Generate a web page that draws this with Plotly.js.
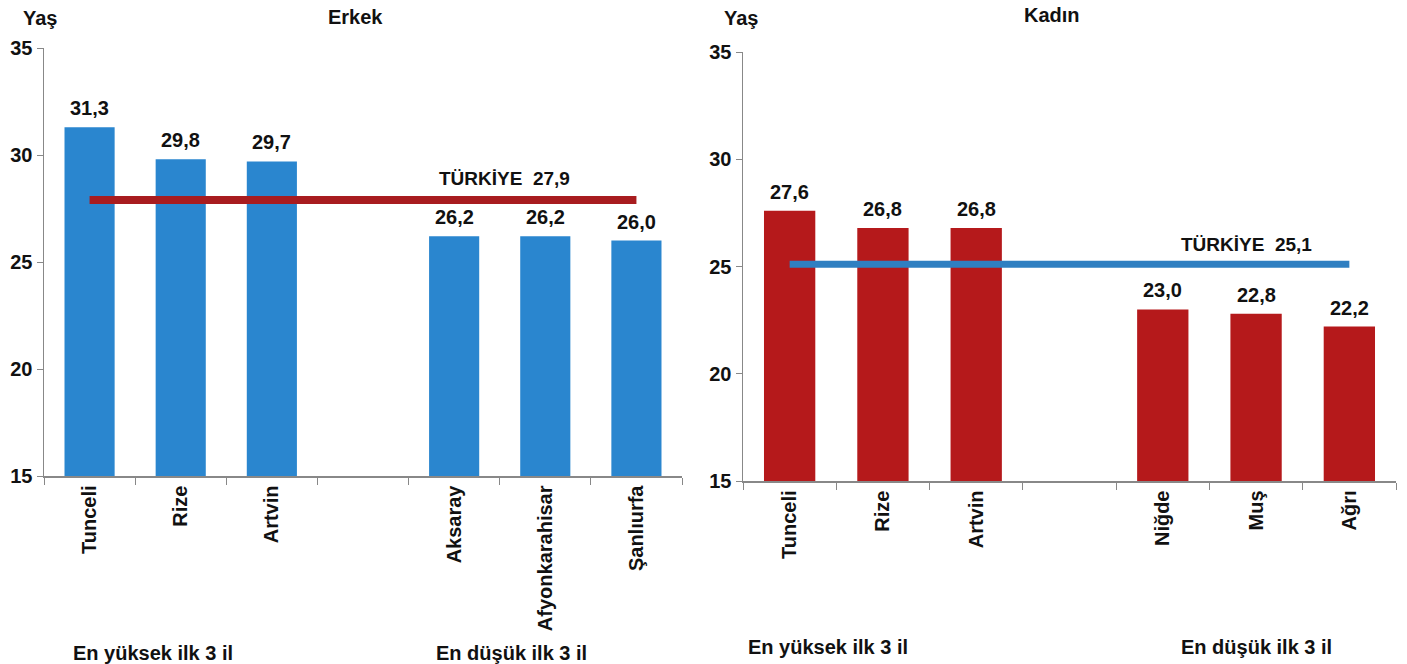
<!DOCTYPE html>
<html><head><meta charset="utf-8">
<script src="https://cdn.plot.ly/plotly-3.0.1.min.js"></script>
<style>html,body{margin:0;padding:0;background:#fff}#chart{width:1407px;height:664px}</style>
</head><body><div id="chart"></div>
<script>
const erkekCats = ["Tunceli", "Rize", "Artvin", " ", "Aksaray", "Afyonkarahisar", "Şanlıurfa"];
const erkekVals = [31.3, 29.8, 29.7, null, 26.2, 26.2, 26.0];
const erkekTurkiye = 27.9;
const kadinCats = ["Tunceli", "Rize", "Artvin", " ", "Niğde", "Muş", "Ağrı"];
const kadinVals = [27.6, 26.8, 26.8, null, 23.0, 22.8, 22.2];
const kadinTurkiye = 25.1;
const yTicks = [15, 20, 25, 30, 35];

const F = "Liberation Sans, Arial, sans-serif";
const blue = "#2a86cf", red = "#b5191b", lineRed = "#a81c1f", lineBlue = "#2f7fc1";
const fnt = (s) => ({family:F, size:s, color:"#111", weight:700});

const traces = [
  {type:"bar", x:erkekCats, y:erkekVals, xaxis:"x", yaxis:"y", marker:{color:blue}, width:0.55, hoverinfo:"none"},
  {type:"scatter", mode:"lines", x:[erkekCats[0], erkekCats[erkekCats.length-1]], y:[erkekTurkiye, erkekTurkiye],
   xaxis:"x", yaxis:"y", line:{color:lineRed, width:8}, hoverinfo:"none"},
  {type:"bar", x:kadinCats, y:kadinVals, xaxis:"x2", yaxis:"y2", marker:{color:red}, width:0.55, hoverinfo:"none"},
  {type:"scatter", mode:"lines", x:[kadinCats[0], kadinCats[kadinCats.length-1]], y:[kadinTurkiye, kadinTurkiye],
   xaxis:"x2", yaxis:"y2", line:{color:lineBlue, width:7}, hoverinfo:"none"}
];

const xBase = {type:"category", showgrid:false, showline:true, linecolor:"#888", linewidth:1.5,
  ticks:"outside", tickson:"boundaries", ticklen:7, tickcolor:"#888", tickangle:-90,
  tickfont:fnt(20), fixedrange:true};
const yBase = {range:[15,35], tickvals:yTicks, showgrid:false, showline:true, linecolor:"#888", linewidth:1.5,
  ticks:"outside", ticklen:6, tickcolor:"#888", zeroline:false,
  tickfont:fnt(20), fixedrange:true};

const ann = (text, x, y, extra) => Object.assign({text, x, y, xref:"paper", yref:"paper", showarrow:false,
  font:fnt(20)}, extra||{});

const barLabels = (cats, vals, xr, yr) => cats.map((c, i) => vals[i] == null ? null : ({
  text: vals[i].toFixed(1).replace(".", ","), x:c, y:vals[i], xref:xr, yref:yr,
  showarrow:false, yanchor:"middle", yshift:19, font:fnt(20)})).filter(a => a);

const layout = {
  width:1407, height:664, margin:{l:0, r:0, t:0, b:0}, showlegend:false,
  paper_bgcolor:"#fff", plot_bgcolor:"#fff", separators:",.", bargap:0.45,
  xaxis: Object.assign({}, xBase, {domain:[44/1407, 682/1407], anchor:"y", categoryarray:erkekCats, categoryorder:"array"}),
  yaxis: Object.assign({}, yBase, {domain:[(664-476)/664, (664-48)/664], anchor:"x"}),
  xaxis2: Object.assign({}, xBase, {domain:[743/1407, 1396/1407], anchor:"y2", categoryarray:kadinCats, categoryorder:"array"}),
  yaxis2: Object.assign({}, yBase, {domain:[(664-481)/664, (664-52)/664], anchor:"x2"}),
  annotations: [
    ann("Yaş", 40/1407, 1-18/664, {xanchor:"center", yanchor:"middle"}),
    ann("Erkek", 355/1407, 1-17/664, {xanchor:"center", yanchor:"middle"}),
    ann("Yaş", 741/1407, 1-18/664, {xanchor:"center", yanchor:"middle"}),
    ann("Kadın", 1052/1407, 1-15/664, {xanchor:"center", yanchor:"middle"}),
    {text:"TÜRKİYE  " + erkekTurkiye.toFixed(1).replace(".", ","), xref:"paper", x:437/1407, xanchor:"left",
     yref:"y", y:erkekTurkiye, yanchor:"middle", yshift:21, showarrow:false, font:fnt(19)},
    {text:"TÜRKİYE  " + kadinTurkiye.toFixed(1).replace(".", ","), xref:"paper", x:1179/1407, xanchor:"left",
     yref:"y2", y:kadinTurkiye, yanchor:"middle", yshift:20, showarrow:false, font:fnt(19)},
    ann("En yüksek ilk 3 il", 153/1407, 1-653/664, {xanchor:"center", yanchor:"middle"}),
    ann("En düşük ilk 3 il", 511/1407, 1-653/664, {xanchor:"center", yanchor:"middle"}),
    ann("En yüksek ilk 3 il", 828/1407, 1-647/664, {xanchor:"center", yanchor:"middle"}),
    ann("En düşük ilk 3 il", 1256/1407, 1-647/664, {xanchor:"center", yanchor:"middle"})
  ].concat(barLabels(erkekCats, erkekVals, "x", "y"), barLabels(kadinCats, kadinVals, "x2", "y2"))
};

Plotly.newPlot("chart", traces, layout, {staticPlot:true, displayModeBar:false});
</script></body></html>
